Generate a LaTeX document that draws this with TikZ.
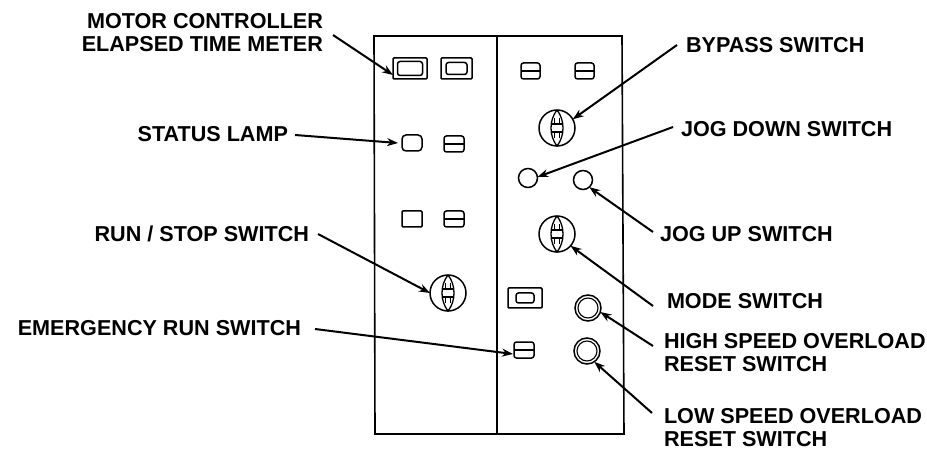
\documentclass[tikz,border=0pt]{standalone}
\usepackage{fontspec}
\setmainfont{Liberation Sans}
\usetikzlibrary{arrows.meta}
\tikzset{
 lbl/.style={font=\fontsize{21.6}{22.5}\selectfont\bfseries, inner sep=0pt, outer sep=0pt, anchor=west, align=left},
 rlbl/.style={lbl, anchor=east, align=right},
 box/.style={draw, line width=1.5pt, rounded corners=2.5pt, inner sep=0pt, outer sep=0pt},
 round/.style={draw, circle, line width=1.5pt, inner sep=0pt, outer sep=0pt},
 arr/.style={line width=2pt, -{Stealth[length=11pt,width=8pt]}},
 wall/.style={line width=1.6pt}
}
\newcommand{\splitbox}[4]{%
 \node[box, minimum width=#4pt, minimum height=16pt] (#1) at (#2,#3) {};
 \draw[line width=1.1pt] (#1.west) -- (#1.east);}
\newcommand{\meter}[7]{%
 \node[box, rounded corners=1pt, minimum width=#4pt, minimum height=#5pt] (#1) at (#2,#3) {};
 \node[box, minimum width=#6pt, minimum height=#7pt] at (#1.center) {};}
\newcommand{\dial}[3]{%
 \node[round, minimum size=36pt] (#1) at (#2,#3) {};
 \draw[line width=1.3pt] (#1.north) .. controls (#2-8,#3-8) and (#2-8,#3+8) .. (#1.south)
   .. controls (#2+8,#3+8) and (#2+8,#3-8) .. (#1.north);
 \draw[line width=1.2pt] (#2-5,#3-4) -- (#2+5,#3-4) (#2-5,#3+4) -- (#2+5,#3+4)
   (#2-2.5,#3-10) -- (#2-2.5,#3-4) (#2+2.5,#3-10) -- (#2+2.5,#3-4)
   (#2-2.5,#3+10) -- (#2-2.5,#3+4) (#2+2.5,#3+10) -- (#2+2.5,#3+4);}
\begin{document}
\begin{tikzpicture}[x=1pt,y=-1pt]
\useasboundingbox (0,0) rectangle (927,449);
\fill[white] (0,0) rectangle (927,449);
% panel
\coordinate (tl) at (374,36); \coordinate (tm) at (497,36); \coordinate (tr) at (622,36);
\coordinate (bl) at (375,434); \coordinate (bm) at (497,434); \coordinate (br) at (624,434);
\draw[wall] (tl) -- (tr) -- (br) -- (bl) -- cycle;
\draw[wall] (tm) -- (bm);
% components
\meter{m1}{410}{68.5}{34}{21}{25}{14}
\meter{m2}{456.5}{68.5}{31}{21}{21}{12}
\node[box, rounded corners=4pt, minimum width=20pt, minimum height=16pt] (status) at (412,143) {};
\splitbox{s2}{454}{144}{20}
\node[box, rounded corners=1pt, minimum width=20pt, minimum height=16pt] (l3) at (412,219) {};
\splitbox{s3}{454}{219}{20}
\splitbox{r1}{530.5}{71}{19}
\splitbox{r2}{584.5}{71}{19}
\dial{bypass}{557}{128}
\node[round, minimum size=19pt] (jogd) at (528,178) {};
\node[round, minimum size=19pt] (jogu) at (583,180) {};
\dial{mode}{557}{234}
\dial{run}{448}{293}
\meter{m3}{525}{298}{34}{20}{18}{10}
\splitbox{emer}{524}{350}{20}
\node[round, minimum size=26pt] (high) at (588,308) {};
\node[round, line width=1.1pt, minimum size=20pt] at (high.center) {};
\node[round, minimum size=26pt] (low) at (587,351) {};
\node[round, line width=1.1pt, minimum size=20pt] at (low.center) {};
% labels
\node[rlbl] (tmotor) at (323,32.5) {MOTOR CONTROLLER\\ELAPSED TIME METER};
\node[rlbl] (tstatus) at (288,134) {STATUS LAMP};
\node[rlbl] (trun) at (309,234) {RUN / STOP SWITCH};
\node[rlbl] (temer) at (301,328) {EMERGENCY RUN SWITCH};
\node[lbl] (tbypass) at (686,45) {BYPASS SWITCH};
\node[lbl] (tjogd) at (681,129) {JOG DOWN SWITCH};
\node[lbl] (tjogu) at (660,234) {JOG UP SWITCH};
\node[lbl] (tmode) at (667,301) {MODE SWITCH};
\node[lbl] (thigh) at (664,352.5) {HIGH SPEED OVERLOAD\\RESET SWITCH};
\node[lbl] (tlow) at (664,427.5) {LOW SPEED OVERLOAD\\RESET SWITCH};
% connector free ends
\coordinate (amotor) at (333,35);
\coordinate (astatus) at (295,135);
\coordinate (arun) at (318,234);
\coordinate (aemer) at (315,329);
\coordinate (abypass) at (677,45);
\coordinate (ajogd) at (673,127);
\coordinate (ajogu) at (653,232);
\coordinate (amode) at (653,306);
\coordinate (ahigh) at (653,346);
\coordinate (alow) at (652,413);
% arrows
\draw[arr] (amotor) -- ([yshift=-6.5pt]m1.west);
\draw[arr] (astatus) -- ([xshift=-4pt]status.west);
\draw[arr] (arun) -- (run.west);
\draw[arr] (aemer) -- ([yshift=-4pt,xshift=-1pt]emer.west);
\draw[arr] (abypass) -- (bypass.29);
\draw[arr] (ajogd) -- (jogd.6);
\draw[arr] (ajogu) -- (jogu.-49);
\draw[arr] (amode) -- (mode.-41);
\draw[arr] (ahigh) -- (high.-18);
\draw[arr] (alow) -- (low.-56);
\end{tikzpicture}
\end{document}
